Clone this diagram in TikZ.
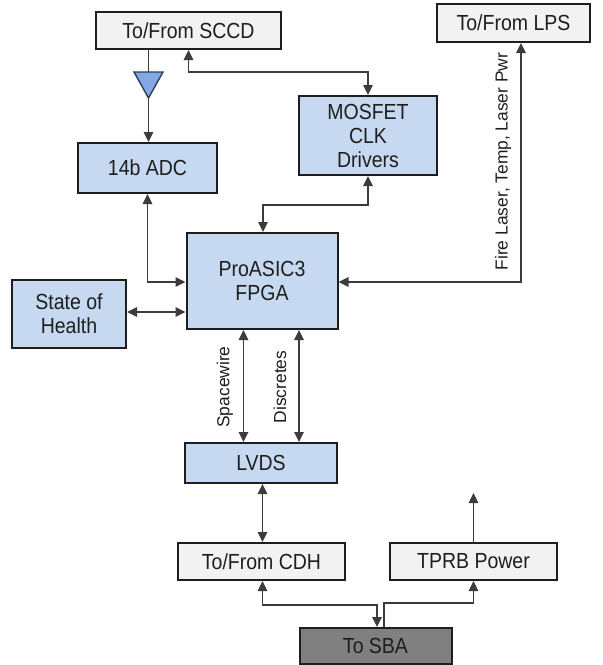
\documentclass[tikz,border=0pt]{standalone}
\usepackage{fontspec}
\usepackage{graphicx}
\setmainfont{Liberation Sans}
\usetikzlibrary{arrows.meta}
\definecolor{boxblue}{RGB}{198,217,241}
\definecolor{boxgrey}{RGB}{242,242,242}
\definecolor{boxdark}{RGB}{128,128,128}
\definecolor{edge}{RGB}{30,30,30}
\definecolor{wire}{RGB}{60,60,60}
\definecolor{txt}{RGB}{30,30,30}
\definecolor{ampfill}{RGB}{130,168,230}
\definecolor{ampedge}{RGB}{47,63,85}
\newcommand\vst[1]{\scalebox{1}[1.12]{#1}}
\newcommand\vsm[1]{\scalebox{1}[1.12]{\begin{tabular}{@{}c@{}}\rule{0pt}{20.5pt}#1\end{tabular}}}
\tikzset{
  base/.style={draw=edge, line width=2pt, align=center, text=txt,
    font=\fontsize{19.5}{21.6}\selectfont, inner sep=0pt},
  bluebox/.style={base, fill=boxblue},
  greybox/.style={base, fill=boxgrey},
  darkbox/.style={base, fill=boxdark},
  conn/.style={draw=wire, line width=1.3pt},
  tip/.tip={Triangle[length=10pt,width=9.5pt]},
  lbl/.style={rotate=90, text=txt, font=\fontsize{17.4}{20}\selectfont, inner sep=0pt}
}
\begin{document}
\begin{tikzpicture}[x=1pt,y=-1pt]
\useasboundingbox[fill=white] (0,0) rectangle (603,665);

% boxes
\node[greybox, minimum width=185pt, minimum height=37pt] (sccd) at (188.5,30.5) {\vst{To/From SCCD}};
\node[greybox, minimum width=153pt, minimum height=38pt] (lps) at (513.5,23) {\vst{To/From LPS}};
\node[bluebox, minimum width=139pt, minimum height=50pt] (adc) at (147.5,168) {\vst{14b ADC}};
\node[bluebox, minimum width=138pt, minimum height=79pt] (mos) at (368,135.5) {\vsm{MOSFET\\CLK\\Drivers}};
\node[bluebox, minimum width=151pt, minimum height=96pt] (fpga) at (262,281) {\vsm{ProASIC3\\FPGA}};
\node[bluebox, minimum width=114pt, minimum height=68pt] (soh) at (69,314) {\vsm{State of\\Health}};
\node[bluebox, minimum width=152pt, minimum height=40pt] (lvds) at (261,463) {\vst{LVDS}};
\node[greybox, minimum width=167pt, minimum height=37pt] (cdh) at (261.5,561.5) {\vst{To/From CDH}};
\node[greybox, minimum width=167pt, minimum height=37pt] (tprb) at (473.5,561.5) {\vst{TPRB Power}};
\node[darkbox, minimum width=152pt, minimum height=36pt] (sba) at (375.5,646) {\vst{To SBA}};

% amplifier triangle
\coordinate (triT) at (148.5,72);
\coordinate (triB) at (148.5,98);
\draw[fill=ampfill, draw=ampedge, line width=1.4pt] (134,72) -- (163,72) -- (triB) -- cycle;

% connectors
\draw[conn] (sccd.south -| triT) -- (triT);
\draw[conn, -tip] (triB) -- (triB |- adc.north);
\draw[conn, tip-tip] (sccd.south) -- ++(0,22) -| (mos.north);
\draw[conn, tip-tip] (mos.south) -- ++(0,29) -| ([xshift=1pt]fpga.north);
\draw[conn, tip-tip] (adc.south) |- ([yshift=-1pt]fpga.west);
\draw[conn, tip-tip] ([yshift=2pt]soh.east) -- ([yshift=2pt]soh.east -| fpga.west);
\coordinate (lpsin) at ([xshift=7.5pt]lps.south);
\draw[conn, tip-tip] ([yshift=-1pt]fpga.east) -| (lpsin);
\node[lbl] (firelbl) at (503,161.5) {Fire Laser, Temp, Laser Pwr};

\coordinate (swT) at ([xshift=-18.5pt]fpga.south);
\coordinate (dsT) at ([xshift=37pt]fpga.south);
\draw[conn, tip-tip] (swT) -- (swT |- lvds.north);
\draw[conn, tip-tip] (dsT) -- (dsT |- lvds.north);
\node[lbl] (swlbl) at (225,387) {Spacewire};
\node[lbl] (dslbl) at (280,387) {Discretes};

\draw[conn, tip-tip] ([xshift=1.5pt]lvds.south) -- ([xshift=1.5pt]lvds.south |- cdh.north);
\coordinate (pwrout) at (473.5,493);
\draw[conn, -tip] (tprb.north) -- (pwrout);
\draw[conn, tip-tip] ([xshift=1pt]cdh.south) -- ++(0,24) -| ([xshift=1.5pt]sba.north);
\draw[conn, -tip] ([xshift=8.5pt]sba.north) -- ++(0,-24) -| (tprb.south);
\end{tikzpicture}
\end{document}
